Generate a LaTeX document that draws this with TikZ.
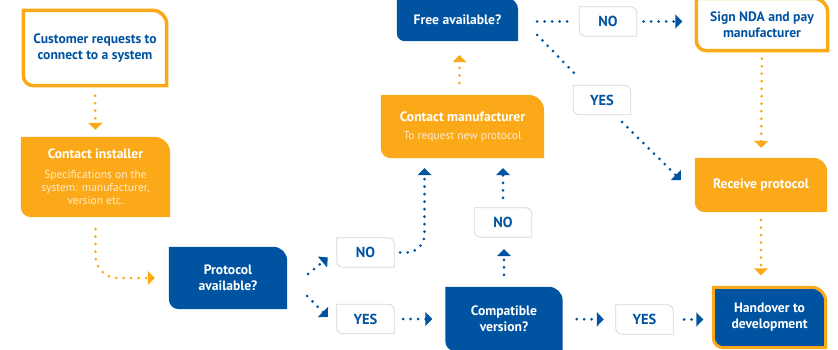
\documentclass[tikz,border=0pt]{standalone}
\usepackage{fontspec}
\setmainfont{PT Sans}
\usetikzlibrary{arrows.meta,calc,backgrounds}
\definecolor{flowblue}{RGB}{0,83,160}
\definecolor{floworange}{RGB}{251,169,24}
\definecolor{flowgrey}{RGB}{214,214,214}
\newcommand\cardpath[3]{([yshift=#3]#1.south west) -- (#1.north west) -- ([xshift=-#2]#1.north east) arc[start angle=90,end angle=0,radius=#2] -- (#1.south east) -- ([xshift=#3]#1.south west) arc[start angle=270,end angle=180,radius=#3] -- cycle}
\newcommand\subtxt[1]{{\mdseries\fontsize{11.5}{12}\selectfont\color{white!78!floworange}#1}}

\begin{document}
\begin{tikzpicture}[x=1pt,y=1pt,
	card/.style 2 args={minimum width=#1,minimum height=#2,inner sep=0pt,align=center,font=\bfseries\fontsize{13.6}{16}\selectfont},
	lbl/.style={minimum width=57pt,minimum height=29pt,inner sep=0pt,text=flowblue,font=\bfseries\fontsize{14.5}{16}\selectfont},
	bdots/.style={flowblue,line width=3pt,line cap=round,dash pattern=on 0pt off 7.5pt},
	bdot/.style={bdots,-{Triangle[width=14pt,length=7pt]}},
	odot/.style={bdot,floworange}]
	\useasboundingbox (0,0) rectangle (838,349);
	\node[card={143pt}{75pt},text=flowblue] (cust) at (95,301) {Customer requests to\\connect to a system};
	\node[card={149pt}{80pt},text=white] (inst) at (95.5,172) {Contact installer\\[4pt]\subtxt{Specifications on the}\\[-3pt]\subtxt{system: manufacturer,}\\[-3pt]\subtxt{version etc.}};
	\node[card={118pt}{62pt},text=white] (pav) at (228,71) {Protocol\\available?};
	\node[card={117pt}{64pt},text=white] (compat) at (504,30) {Compatible\\version?};
	\node[card={112pt}{60pt},text=white] (handover) at (769.5,31.5) {Handover to\\development};
	\node[card={163pt}{63pt},text=white] (mfr) at (462.5,222.5) {Contact manufacturer\\[2pt]\subtxt{To request new protocol}};
	\node[card={121pt}{43pt},text=white] (free) at (457.5,329.5) {Free available?};
	\node[card={131pt}{52pt},text=flowblue] (nda) at (762,324.5) {Sign NDA and pay\\manufacturer};
	\node[card={132pt}{54pt},text=white] (recv) at (761,164) {Receive protocol};
	\node[lbl] (no1) at (365.5,96.5) {NO};
	\node[lbl] (yes1) at (365.5,30) {YES};
	\node[lbl] (no2) at (503,126.5) {NO};
	\node[lbl] (yes2) at (644.5,29.5) {YES};
	\node[lbl] (no3) at (608,327.5) {NO};
	\node[lbl] (yes3) at (602,249) {YES};
	\begin{scope}[on background layer]
		\draw[floworange,line width=3.5pt,fill=white] \cardpath{cust}{14pt}{10pt};
		\fill[floworange] \cardpath{inst}{16pt}{10pt};
		\fill[flowblue] \cardpath{pav}{14pt}{10pt};
		\fill[flowblue] \cardpath{compat}{14pt}{10pt};
		\draw[floworange,line width=3pt,fill=flowblue] \cardpath{handover}{14pt}{10pt};
		\fill[floworange] \cardpath{mfr}{16pt}{10pt};
		\fill[flowblue] \cardpath{free}{12pt}{8pt};
		\draw[floworange,line width=3.5pt,fill=white] \cardpath{nda}{14pt}{10pt};
		\fill[floworange] \cardpath{recv}{14pt}{10pt};
		\draw[flowgrey,line width=0.8pt,fill=white] \cardpath{no1}{6pt}{6pt};
		\draw[flowgrey,line width=0.8pt,fill=white] \cardpath{yes1}{6pt}{6pt};
		\draw[flowgrey,line width=0.8pt,fill=white] \cardpath{no2}{6pt}{6pt};
		\draw[flowgrey,line width=0.8pt,fill=white] \cardpath{yes2}{6pt}{6pt};
		\draw[flowgrey,line width=0.8pt,fill=white] \cardpath{no3}{6pt}{6pt};
		\draw[flowgrey,line width=0.8pt,fill=white] \cardpath{yes3}{6pt}{6pt};
	\end{scope}
	\draw[odot,shorten <=10pt,shorten >=7pt] (cust.south) -- (inst.north);
	\draw[odot,rounded corners=22pt] ([yshift=-12pt]inst.south) |- ([xshift=-14pt]pav.west);
	\draw[bdot] ($(pav.east)+(21,4)$) -- ($(no1.west)+(-9,-5)$);
	\draw[bdot] ($(pav.east)+(20,-18)$) -- ($(yes1.west)+(-9,2)$);
	\draw[bdot,shorten <=9pt,shorten >=13pt] (yes1.east) -- (compat.west);
	\draw[bdot,rounded corners=18pt] ([xshift=6pt]no1.east) -| ($(mfr.south)+(-38,-10)$);
	\draw[bdot,shorten <=12pt,shorten >=12pt] (compat.north) -- (compat.north |- no2.south);
	\draw[bdot,shorten <=10pt,shorten >=10pt] (no2.north) -- (no2.north |- mfr.south);
	\draw[odot,shorten <=12pt,shorten >=14pt] ([xshift=-3pt]mfr.north) -- ([xshift=-3pt]mfr.north |- free.south);
	\draw[bdots,shorten <=19pt,shorten >=8pt] (free.east |- no3) -- (no3.west);
	\draw[bdot,shorten <=7pt,shorten >=14pt] (no3.east) -- (nda.west |- no3);
	\draw[bdots] ($(free.east)+(19,-15.5)$) -- ($(yes3)+(-23,22)$);
	\draw[bdot] ($(yes3)+(20,-22)$) -- ($(recv.west)+(-14,5)$);
	\draw[odot,shorten <=8pt,shorten >=10pt] (nda.south) -- (recv.north);
	\draw[odot,shorten <=8pt,shorten >=12pt] (recv.south) -- (recv.south |- handover.north);
	\draw[bdot,shorten <=14pt,shorten >=12pt] (compat.east) -- (yes2.west);
	\draw[bdot,shorten <=11pt,shorten >=10pt] (yes2.east) -- (handover.west |- yes2);
\end{tikzpicture}
\end{document}
